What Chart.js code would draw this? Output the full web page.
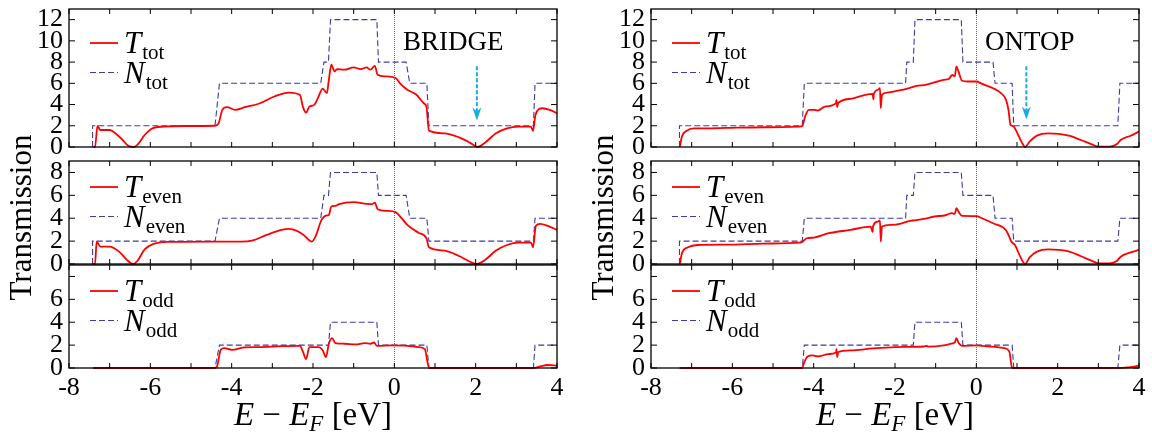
<!DOCTYPE html>
<html>
<head>
<meta charset="utf-8">
<script src="https://cdn.jsdelivr.net/npm/chart.js@4.4.0/dist/chart.umd.min.js"></script>
<style>
  html, body { margin: 0; padding: 0; background: #fff; }
  #wrap { position: relative; width: 1152px; height: 435px; }
  #wrap canvas { position: absolute; left: 0; top: 0; }
</style>
</head>
<body>
<div id="wrap">
  <canvas id="c0" width="1152" height="435"></canvas>
  <canvas id="c1" width="1152" height="435"></canvas>
  <canvas id="c2" width="1152" height="435"></canvas>
  <canvas id="c3" width="1152" height="435"></canvas>
  <canvas id="c4" width="1152" height="435"></canvas>
  <canvas id="c5" width="1152" height="435"></canvas>
</div>
<script>
// ticks
var energyTicks = [-8, -6, -4, -2, 0, 2, 4];
var energyMarks = [-8, -7, -6, -5, -4, -3, -2, -1, 0, 1, 2, 3, 4];
var totTicks = [0, 2, 4, 6, 8, 10, 12];
var evenTicks = [0, 2, 4, 6, 8];
var oddTicks = [0, 2, 4, 6];
var oddMarks = [0, 2, 4, 6, 8];

// number of channels (step functions), same energies for tot/even/odd
var bridgeStepE = [-7.42, -7.42, -4.41, -4.30, -1.81, -1.73, -1.62, -1.57, -0.43, -0.39, 0.29, 0.38, 0.80, 0.85, 3.42, 3.46, 4.0];
var bridgeNTot  = [0, 2, 2, 6, 6, 8, 8, 12, 12, 8, 8, 6, 6, 2, 2, 6, 6];
var bridgeNEven = [0, 2, 2, 4, 4, 6, 6, 8, 8, 6, 6, 4, 4, 2, 2, 4, 4];
var bridgeNOdd  = [0, 0, 0, 2, 2, 2, 2, 4, 4, 2, 2, 2, 2, 0, 0, 2, 2];

var ontopStepE = [-7.30, -7.30, -4.28, -4.23, -1.74, -1.71, -1.55, -1.51, -0.37, -0.33, 0.41, 0.46, 0.88, 0.92, 3.48, 3.53, 4.0];
var ontopNTot  = [0, 2, 2, 6, 6, 8, 8, 12, 12, 8, 8, 6, 6, 2, 2, 6, 6];
var ontopNEven = [0, 2, 2, 4, 4, 6, 6, 8, 8, 6, 6, 4, 4, 2, 2, 4, 4];
var ontopNOdd  = [0, 0, 0, 2, 2, 2, 2, 4, 4, 2, 2, 2, 2, 0, 0, 2, 2];

// transmission [E, T]
var bridgeTot = [[-7.40,0],[-7.36,0],[-7.30,1.98],[-7.23,1.6],[-7.00,1.6],[-6.86,1.3],[-6.68,0.66],[-6.55,0.13],[-6.41,0],
  [-6.32,0.2],[-6.14,1.13],[-5.95,1.76],[-5.68,1.92],[-5.14,1.98],[-4.41,2.0],[-4.32,2.24],[-4.23,3.5],[-4.12,3.75],
  [-3.91,3.5],[-3.68,3.75],[-3.32,4.1],[-2.95,4.76],[-2.59,5.13],[-2.32,4.9],[-2.25,3.8],[-2.17,3.24],[-2.09,3.8],
  [-1.97,3.97],[-1.88,4.6],[-1.76,5.5],[-1.66,5.07],[-1.61,6.33],[-1.55,7.75],[-1.47,7.12],[-1.41,7.34],[-1.23,7.28],
  [-1.00,7.5],[-0.82,7.34],[-0.68,7.5],[-0.59,7.28],[-0.48,7.65],[-0.41,6.8],[-0.23,6.65],[0.03,6.5],[0.14,6.0],
  [0.32,5.39],[0.55,4.9],[0.73,4.1],[0.79,3.8],[0.85,1.54],[1.23,1.29],[1.59,0.91],[1.86,0.41],[2.05,0],[2.23,0.41],
  [2.50,1.29],[2.77,1.76],[3.05,1.92],[3.36,1.92],[3.41,1.51],[3.47,3.02],[3.64,3.65],[3.82,3.5],[4.00,3.18]];

var bridgeEven = [[-7.40,0],[-7.36,0],[-7.32,1.96],[-7.23,1.52],[-7.00,1.52],[-6.77,1.08],[-6.59,0.41],[-6.43,0],
  [-6.32,0.26],[-6.14,1.28],[-5.95,1.72],[-5.59,1.93],[-4.41,1.96],[-3.77,1.96],[-3.50,2.04],[-3.14,2.54],[-2.77,2.98],
  [-2.59,3.07],[-2.41,2.92],[-2.23,2.54],[-2.03,1.96],[-1.94,2.39],[-1.79,3.85],[-1.68,4.23],[-1.61,4.29],[-1.55,5.02],
  [-1.45,5.08],[-1.36,5.23],[-1.00,5.4],[-0.68,5.26],[-0.55,5.23],[-0.48,5.37],[-0.41,4.79],[-0.18,4.64],[0.03,4.53],
  [0.18,4.0],[0.32,3.42],[0.59,2.74],[0.79,2.25],[0.85,1.46],[1.23,1.17],[1.59,0.7],[1.86,0.2],[2.03,0],[2.23,0.35],
  [2.50,1.17],[2.77,1.66],[3.05,1.87],[3.36,1.87],[3.41,1.46],[3.48,3.33],[3.59,3.5],[3.77,3.33],[4.00,2.98]];

var bridgeOdd = [[-7.40,0],[-4.41,0],[-4.36,0.14],[-4.27,1.59],[-4.18,1.74],[-4.00,1.59],[-3.68,1.8],[-3.32,1.83],
  [-2.77,1.91],[-2.32,1.94],[-2.25,1.45],[-2.17,0.78],[-2.09,1.83],[-1.86,1.83],[-1.77,1.59],[-1.68,0.96],[-1.61,2.12],
  [-1.53,2.61],[-1.45,2.17],[-1.23,2.12],[-0.95,2.06],[-0.73,2.17],[-0.59,2.12],[-0.50,2.23],[-0.43,1.94],[-0.05,1.97],
  [0.32,1.94],[0.59,1.83],[0.75,1.65],[0.82,0.43],[0.86,0],[3.41,0],[3.59,0.14],[3.77,0.26],[4.00,0.2]];

var ontopTot = [[-7.29,0],[-7.24,0.98],[-7.13,1.51],[-6.95,1.76],[-6.68,1.76],[-6.14,1.8],[-5.24,1.86],[-4.35,1.92],
  [-4.28,1.98],[-4.21,2.87],[-4.12,3.5],[-3.99,3.5],[-3.90,3.43],[-3.72,3.81],[-3.45,4.13],[-3.44,4.44],[-3.42,3.75],
  [-3.40,4.13],[-3.09,4.54],[-2.73,4.91],[-2.55,5.0],[-2.53,4.5],[-2.52,5.0],[-2.42,5.39],[-2.37,5.54],[-2.35,3.65],
  [-2.32,4.91],[-2.19,5.13],[-1.92,5.32],[-1.74,5.45],[-1.65,5.54],[-1.47,5.76],[-1.25,5.86],[-1.03,6.08],[-0.80,6.33],
  [-0.67,6.43],[-0.59,6.8],[-0.53,6.65],[-0.49,7.59],[-0.44,7.12],[-0.35,6.24],[-0.22,6.17],[0.00,6.17],[0.14,5.95],
  [0.41,5.54],[0.59,5.13],[0.73,4.44],[0.79,3.5],[0.84,2.08],[0.90,1.98],[0.99,1.45],[1.11,0.5],[1.20,0],[1.31,0.5],
  [1.49,1.07],[1.76,1.29],[2.03,1.23],[2.30,1.04],[2.57,0.66],[2.84,0.25],[3.01,0.03],[3.28,0.03],[3.46,0.28],
  [3.55,0.66],[3.78,1.04],[4.00,1.45]];

var ontopEven = [[-7.29,0],[-7.24,0.93],[-7.09,1.46],[-6.86,1.66],[-6.14,1.69],[-5.24,1.78],[-4.35,1.87],[-4.28,1.93],
  [-4.17,2.25],[-3.99,2.31],[-3.63,2.69],[-3.09,2.98],[-2.60,3.27],[-2.55,2.8],[-2.54,3.3],[-2.42,3.71],[-2.37,3.8],
  [-2.35,1.96],[-2.32,3.27],[-2.10,3.42],[-1.83,3.56],[-1.70,3.71],[-1.57,3.8],[-1.30,3.94],[-1.03,4.15],[-0.76,4.26],
  [-0.60,4.44],[-0.53,4.38],[-0.49,4.88],[-0.44,4.58],[-0.35,4.2],[0.00,4.18],[0.14,4.0],[0.41,3.56],[0.72,2.98],
  [0.81,2.39],[0.86,1.96],[0.95,1.66],[1.08,0.64],[1.20,0],[1.31,0.58],[1.49,1.08],[1.76,1.28],[2.03,1.23],[2.29,1.08],
  [2.56,0.7],[2.83,0.29],[3.01,0.06],[3.28,0.06],[3.46,0.29],[3.55,0.64],[3.78,0.99],[4.00,1.23]];

var ontopOdd = [[-7.29,0],[-4.28,0],[-4.24,0.43],[-4.15,1.01],[-4.03,1.1],[-3.90,1.01],[-3.63,1.22],[-3.45,1.36],
  [-3.44,1.65],[-3.42,0.95],[-3.40,1.38],[-3.09,1.54],[-2.55,1.71],[-2.01,1.83],[-1.30,1.88],[-1.21,1.93],[-1.19,1.86],
  [-0.76,2.0],[-0.62,2.12],[-0.53,2.23],[-0.49,2.61],[-0.44,2.23],[-0.35,1.94],[0.00,1.97],[0.32,1.88],[0.68,1.74],
  [0.81,1.45],[0.88,0],[3.46,0],[3.73,0.06],[4.00,0.2]];

// arrows [E, from, to]
var arrowBridge = [2.03, 7.6, 2.5];
var arrowOntop = [1.23, 7.6, 2.6];

var FONT = "'Liberation Serif', 'Times New Roman', serif";
var colLeft = [69, 651], colRight = [557, 1139];
var rowTop = [9, 161, 265], rowBottom = [147, 264, 368];
var rowMax = [13, 9, 9];
var Y_W = 50, X_H = 55;

var panelDeco = {
  id: 'panelDeco',
  beforeDatasetsDraw: function(chart) {
    var a = chart.chartArea, ctx = chart.ctx;
    var px = Math.round(chart.scales.x.getPixelForValue(0)) + 0.5;
    ctx.save();
    ctx.strokeStyle = '#666';
    ctx.lineWidth = 1;
    ctx.setLineDash([1, 1]);
    ctx.beginPath();
    ctx.moveTo(px, a.top);
    ctx.lineTo(px, a.bottom);
    ctx.stroke();
    ctx.restore();
  },
  afterDatasetsDraw: function(chart, args, o) {
    var ctx = chart.ctx, a = chart.chartArea;
    var xs = chart.scales.x, ys = chart.scales.y;
    ctx.save();
    ctx.setLineDash([]);
    ctx.strokeStyle = '#000';
    ctx.lineWidth = 1.3;
    ctx.strokeRect(a.left, a.top, a.right - a.left, a.bottom - a.top);

    // inner ticks on all four sides
    ctx.beginPath();
    energyMarks.forEach(function(v) {
      var p = xs.getPixelForValue(v);
      ctx.moveTo(p, a.bottom); ctx.lineTo(p, a.bottom - 5);
      ctx.moveTo(p, a.top); ctx.lineTo(p, a.top + 5);
    });
    o.yMarks.forEach(function(v) {
      var p = ys.getPixelForValue(v);
      ctx.moveTo(a.left, p); ctx.lineTo(a.left + 6, p);
      ctx.moveTo(a.right, p); ctx.lineTo(a.right - 6, p);
    });
    ctx.lineWidth = 1;
    ctx.stroke();

    // legend
    ctx.textAlign = 'left';
    ctx.textBaseline = 'alphabetic';
    chart.data.datasets.forEach(function(ds, i) {
      var y = a.top + o.legendTop + i * 29.5;
      ctx.strokeStyle = ds.borderColor;
      ctx.lineWidth = ds.borderWidth;
      ctx.setLineDash(ds.borderDash || []);
      ctx.beginPath();
      ctx.moveTo(a.left + 21, y);
      ctx.lineTo(a.left + 49, y);
      ctx.stroke();
      ctx.setLineDash([]);
      ctx.fillStyle = '#000';
      ctx.font = 'italic 31px ' + FONT;
      ctx.fillText(ds.label, a.left + 55, y + 10);
      var w = ctx.measureText(ds.label).width;
      ctx.font = '21px ' + FONT;
      ctx.fillText(ds.sub, a.left + 56 + w, y + 16);
    });

    if (o.tag) {
      ctx.font = '27px ' + FONT;
      ctx.fillText(o.tag, a.left + 334, a.top + 41);
    }

    if (o.arrow) {
      var ax = xs.getPixelForValue(o.arrow[0]);
      var y1 = ys.getPixelForValue(o.arrow[1]), y2 = ys.getPixelForValue(o.arrow[2]);
      ctx.strokeStyle = '#19a9e6';
      ctx.fillStyle = '#19a9e6';
      ctx.lineWidth = 2;
      ctx.setLineDash([4, 2]);
      ctx.beginPath();
      ctx.moveTo(ax, y1);
      ctx.lineTo(ax, y2 - 9);
      ctx.stroke();
      ctx.setLineDash([]);
      ctx.beginPath();
      ctx.moveTo(ax, y2);
      ctx.lineTo(ax - 4.5, y2 - 13);
      ctx.lineTo(ax, y2 - 9);
      ctx.lineTo(ax + 4.5, y2 - 13);
      ctx.closePath();
      ctx.fill();
    }

    ctx.fillStyle = '#000';
    if (o.sideTitle) {
      ctx.save();
      ctx.translate(a.left - 46, (a.top + a.bottom) / 2 + 5);
      ctx.rotate(-Math.PI / 2);
      ctx.textAlign = 'center';
      ctx.textBaseline = 'middle';
      ctx.font = '31px ' + FONT;
      ctx.fillText('Transmission', 0, 0);
      ctx.restore();
    }

    if (o.xTitle) {
      // E − E_F [eV]
      var parts = [
        ['E', 'italic 33px ', 0],
        [' \u2212 ', '33px ', 0],
        ['E', 'italic 33px ', 0],
        ['F', 'italic 23px ', 6],
        [' [eV]', '33px ', 0]
      ];
      var total = 0;
      parts.forEach(function(p) { ctx.font = p[1] + FONT; total += ctx.measureText(p[0]).width; });
      var x = (a.left + a.right) / 2 - total / 2;
      var base = 425;
      ctx.textAlign = 'left';
      ctx.textBaseline = 'alphabetic';
      parts.forEach(function(p) {
        ctx.font = p[1] + FONT;
        ctx.fillText(p[0], x, base + p[2]);
        x += ctx.measureText(p[0]).width;
      });
    }
    ctx.restore();
  }
};

function pairs(list) {
  return list.map(function(p) { return { x: p[0], y: p[1] }; });
}
function steps(energies, levels) {
  return energies.map(function(e, i) { return { x: e, y: levels[i] }; });
}

function makePanel(id, col, row, tList, stepE, nLevels, sub, yLabels, yMarks, extra) {
  var isLow = row === 2;
  new Chart(document.getElementById(id), {
    type: 'line',
    data: {
      datasets: [
        { label: 'T', sub: sub, data: pairs(tList), borderColor: '#ff0000', borderWidth: 1.8,
          pointRadius: 0, cubicInterpolationMode: 'monotone', clip: 1 },
        { label: 'N', sub: sub, data: steps(stepE, nLevels), borderColor: '#3b3bab', borderWidth: 1.1,
          borderDash: [6, 3], pointRadius: 0, tension: 0, clip: 1 }
      ]
    },
    options: {
      responsive: false,
      animation: false,
      events: [],
      layout: {
        autoPadding: false,
        padding: {
          left: colLeft[col] - Y_W,
          right: 1152 - colRight[col],
          top: rowTop[row],
          bottom: isLow ? 435 - rowBottom[row] - X_H : 435 - rowBottom[row]
        }
      },
      scales: {
        x: {
          type: 'linear', min: -8, max: 4, display: isLow,
          grid: { display: false, drawTicks: false },
          border: { display: false },
          ticks: { color: '#000', font: { family: FONT, size: 26 }, padding: 5, maxRotation: 0, autoSkip: false },
          afterBuildTicks: function(s) { s.ticks = energyTicks.map(function(v) { return { value: v }; }); },
          afterFit: function(s) {
            if (isLow) { s.height = X_H; }
            s.paddingLeft = 0; s.paddingRight = 0;
          }
        },
        y: {
          type: 'linear', min: 0, max: rowMax[row],
          grid: { display: false, drawTicks: false },
          border: { display: false },
          ticks: { color: '#000', font: { family: FONT, size: 26 }, padding: 6, autoSkip: false },
          afterBuildTicks: function(s) { s.ticks = yLabels.map(function(v) { return { value: v }; }); },
          afterFit: function(s) { s.width = Y_W; s.paddingTop = 0; s.paddingBottom = 0; }
        }
      },
      plugins: {
        legend: { display: false },
        tooltip: { enabled: false },
        panelDeco: Object.assign({ yMarks: yMarks, legendTop: row === 0 ? 34 : 26 }, extra)
      }
    },
    plugins: [panelDeco]
  });
}

makePanel('c0', 0, 0, bridgeTot, bridgeStepE, bridgeNTot, 'tot', totTicks, totTicks, { tag: 'BRIDGE', arrow: arrowBridge });
makePanel('c1', 0, 1, bridgeEven, bridgeStepE, bridgeNEven, 'even', evenTicks, evenTicks, { sideTitle: true });
makePanel('c2', 0, 2, bridgeOdd, bridgeStepE, bridgeNOdd, 'odd', oddTicks, oddMarks, { xTitle: true });
makePanel('c3', 1, 0, ontopTot, ontopStepE, ontopNTot, 'tot', totTicks, totTicks, { tag: 'ONTOP', arrow: arrowOntop });
makePanel('c4', 1, 1, ontopEven, ontopStepE, ontopNEven, 'even', evenTicks, evenTicks, { sideTitle: true });
makePanel('c5', 1, 2, ontopOdd, ontopStepE, ontopNOdd, 'odd', oddTicks, oddMarks, { xTitle: true });
</script>
</body>
</html>
